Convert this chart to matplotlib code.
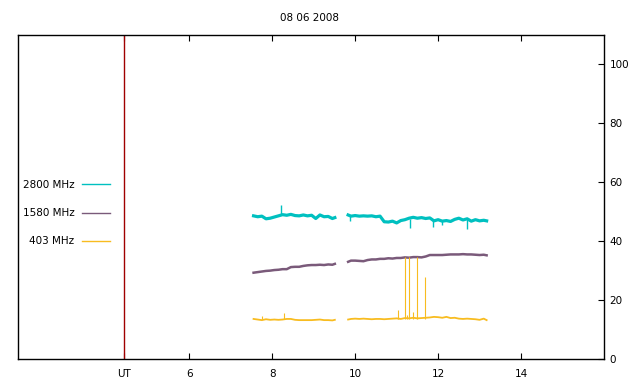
import numpy as np
import matplotlib
matplotlib.use("Agg")
import matplotlib.pyplot as plt

title = "08 06 2008"
ut_pos = 4.43
xtick_vals = [6, 8, 10, 12, 14]
ytick_vals = [0, 20, 40, 60, 80, 100]

# sample times (UT hours), two recording blocks
t1 = [7.55, 7.65, 7.75, 7.85, 7.95, 8.05, 8.15, 8.25, 8.35, 8.45, 8.55,
      8.65, 8.75, 8.85, 8.95, 9.05, 9.15, 9.25, 9.35, 9.45, 9.51]
t2 = [9.83, 9.9, 10.0, 10.1, 10.2, 10.3, 10.4, 10.5, 10.6, 10.7, 10.8,
      10.9, 11.0, 11.1, 11.2, 11.3, 11.4, 11.5, 11.6, 11.7, 11.8, 11.9,
      12.0, 12.1, 12.2, 12.3, 12.4, 12.5, 12.6, 12.7, 12.8, 12.9, 13.0,
      13.1, 13.17]

# 2800 MHz
f2800_a = [48.6, 48.3, 48.5, 47.6, 47.8, 48.2, 48.6, 49.0, 48.8, 49.1, 48.7,
           48.6, 48.9, 48.6, 48.8, 47.7, 48.9, 48.3, 48.4, 47.7, 48.0]
f2800_b = [48.9, 48.5, 48.7, 48.5, 48.6, 48.5, 48.6, 48.3, 48.5, 46.6, 46.5,
           46.8, 46.2, 47.0, 47.3, 47.8, 48.1, 47.8, 48.0, 47.7, 47.9, 46.9,
           47.3, 46.8, 47.0, 46.7, 47.4, 47.8, 47.2, 47.6, 46.8, 47.3, 46.9,
           47.1, 46.9]
f2800_spk_t = [8.20, 9.87, 11.33, 11.87, 12.10, 12.70]
f2800_spk_lo = [48.8, 46.9, 44.4, 44.9, 45.5, 44.3]
f2800_spk_hi = [52.3, 48.6, 47.5, 47.6, 47.2, 47.5]

# 1580 MHz
f1580_a = [29.3, 29.5, 29.7, 29.9, 30.0, 30.2, 30.3, 30.5, 30.5, 31.2, 31.3,
           31.3, 31.6, 31.8, 31.9, 31.9, 32.0, 31.9, 32.1, 32.0, 32.3]
f1580_b = [33.0, 33.4, 33.4, 33.3, 33.2, 33.6, 33.8, 33.8, 34.0, 34.0, 34.2,
           34.1, 34.3, 34.3, 34.5, 34.4, 34.6, 34.6, 34.5, 34.8, 35.3, 35.3,
           35.3, 35.3, 35.4, 35.5, 35.5, 35.5, 35.6, 35.5, 35.5, 35.4, 35.3,
           35.4, 35.2]

# 403 MHz
f403_a = [13.6, 13.4, 13.2, 13.5, 13.3, 13.4, 13.3, 13.4, 13.6, 13.6, 13.3,
          13.2, 13.2, 13.2, 13.2, 13.3, 13.4, 13.2, 13.2, 13.1, 13.3]
f403_b = [13.4, 13.6, 13.7, 13.6, 13.7, 13.6, 13.5, 13.6, 13.6, 13.5, 13.6,
          13.7, 13.8, 13.6, 13.9, 13.8, 14.0, 13.8, 13.9, 14.0, 14.1, 14.3,
          14.2, 14.0, 14.3, 13.9, 14.0, 13.7, 13.6, 13.7, 13.6, 13.5, 13.3,
          13.7, 13.2]
f403_spk_t = [7.76, 8.29, 11.04, 11.20, 11.25, 11.30, 11.40, 11.49, 11.69]
f403_spk_hi = [14.6, 15.7, 16.6, 34.5, 15.0, 34.5, 15.9, 34.5, 27.9]

c2800 = "#00c0c0"
c1580 = "#7a5a7a"
c403 = "#f8bc20"

fig = plt.figure(figsize=(6.4, 3.84), dpi=100)
ax = fig.add_axes([18 / 640, 25 / 384, 586 / 640, 324 / 384])

fs = 7.5

ax.plot(t1, f2800_a, color=c2800, lw=2.3, label="2800 MHz")
ax.plot(t2, f2800_b, color=c2800, lw=2.3)
ax.vlines(f2800_spk_t, f2800_spk_lo, f2800_spk_hi, color=c2800, lw=1.0)

ax.plot(t1, f1580_a, color=c1580, lw=1.8, label="1580 MHz")
ax.plot(t2, f1580_b, color=c1580, lw=1.8)

ax.plot(t1, f403_a, color=c403, lw=1.3, label="403 MHz")
ax.plot(t2, f403_b, color=c403, lw=1.3)
ax.vlines(f403_spk_t, 13.5, f403_spk_hi, color=c403, lw=0.8)

ax.axvline(ut_pos, color="#a00000", lw=1.0)

ax.set_xlim(1.87, 16.0)
ax.set_ylim(0, 110)

ax.set_xticks([ut_pos] + xtick_vals)
ax.set_xticklabels(["UT"] + [str(v) for v in xtick_vals], fontsize=fs)
ax.tick_params(axis="x", direction="in", length=4, width=0.8, top=True,
               pad=7)
ax.yaxis.tick_right()
ax.set_yticks(ytick_vals)
ax.set_yticklabels([str(v) for v in ytick_vals], fontsize=fs)
ax.tick_params(axis="y", direction="in", length=4, width=0.8, pad=4,
               left=False, right=True)
for s in ax.spines.values():
    s.set_linewidth(1.0)

leg = ax.legend(loc="center right", bbox_to_anchor=(0.157, 0.45),
                markerfirst=False, frameon=False, fontsize=fs,
                handlelength=2.7, handletextpad=0.7, labelspacing=1.75,
                borderaxespad=0, borderpad=0)
for h in leg.get_lines():
    h.set_linewidth(1.0)

fig.text(310 / 640, 1 - 18 / 384, title, ha="center", va="center", fontsize=fs)

fig.savefig("out.png", dpi=100)
